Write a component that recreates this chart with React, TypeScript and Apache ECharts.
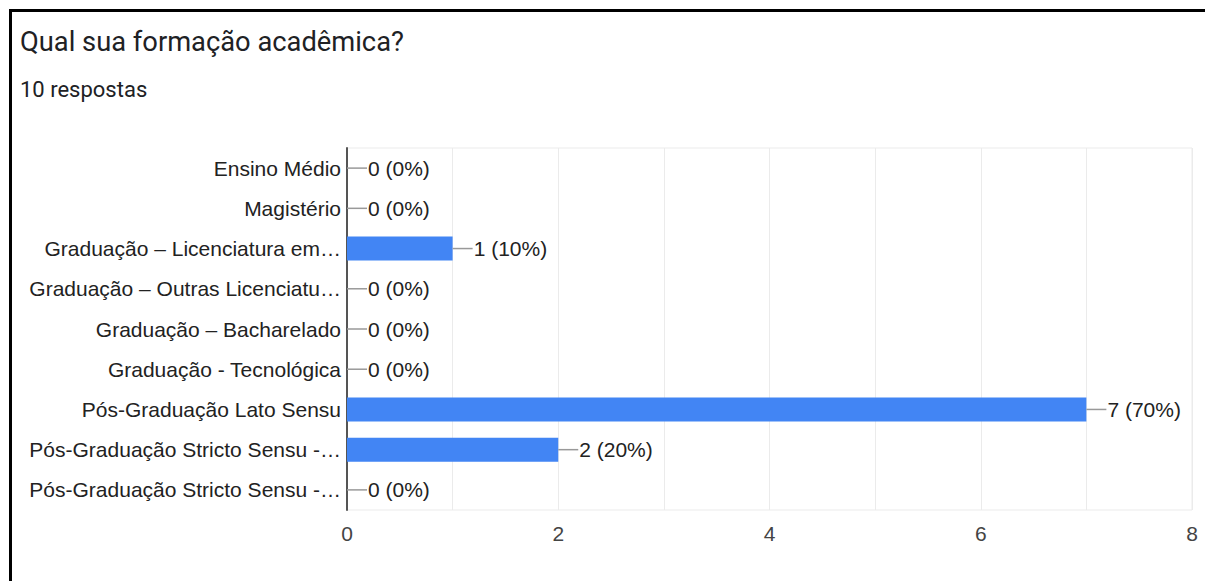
import React, { useEffect, useRef } from "react";
import * as echarts from "echarts";

const title = "Qual sua formação acadêmica?";
const subtitle = "10 respostas";
const categories = [
  "Ensino Médio",
  "Magistério",
  "Graduação – Licenciatura em…",
  "Graduação – Outras Licenciatu…",
  "Graduação – Bacharelado",
  "Graduação - Tecnológica",
  "Pós-Graduação Lato Sensu",
  "Pós-Graduação Stricto Sensu -…",
  "Pós-Graduação Stricto Sensu -…",
];
const values = [0, 0, 1, 0, 0, 0, 7, 2, 0];
const percents = [0, 0, 10, 0, 0, 0, 70, 20, 0];
const xTicks = [0, 2, 4, 6, 8];

const FONT = "'Liberation Sans', Arial, sans-serif";

export default function App() {
  const ref = useRef<HTMLDivElement>(null);
  useEffect(() => {
    if (!ref.current) return;
    const chart = echarts.init(ref.current, undefined, { renderer: "svg" });
    chart.setOption({
      animation: false,
      backgroundColor: "#ffffff",
      graphic: [
        { type: "line", shape: { x1: 10.5, y1: 9, x2: 10.5, y2: 581 }, style: { stroke: "#000", lineWidth: 3 } },
        { type: "line", shape: { x1: 9, y1: 10.5, x2: 1205, y2: 10.5 }, style: { stroke: "#000", lineWidth: 3 } },
        {
          type: "text",
          left: 20,
          top: 28,
          style: { text: title, font: "27.3px Roboto, 'Noto Sans', sans-serif", fill: "#202124" },
        },
        {
          type: "text",
          left: 20,
          top: 78,
          style: { text: subtitle, font: "22px Roboto, 'Noto Sans', sans-serif", fill: "#202124" },
        },
      ],
      grid: {
        left: 347,
        right: 13,
        top: 148,
        bottom: 71,
        show: true,
        borderColor: "#ebebeb",
        borderWidth: 1,
      },
      xAxis: {
        type: "value",
        min: 0,
        max: 8,
        interval: 1,
        axisLine: { show: false },
        axisTick: { show: false },
        splitLine: { show: true, lineStyle: { color: "#ebebeb", width: 1 } },
        axisLabel: {
          margin: 13,
          color: "#444",
          fontFamily: FONT,
          fontSize: 21,
          formatter: (v: number) => (xTicks.includes(v) ? String(v) : ""),
        },
      },
      yAxis: {
        type: "category",
        inverse: true,
        data: categories,
        axisLine: { show: true, lineStyle: { color: "#555", width: 2 } },
        axisTick: { show: false },
        axisLabel: {
          margin: 6,
          color: "#222",
          fontFamily: FONT,
          fontSize: 21,
        },
      },
      series: [
        {
          type: "bar",
          data: values,
          barWidth: 24,
          itemStyle: { color: "#4285f4" },
          label: {
            show: true,
            position: "right",
            distance: 0,
            formatter: (p: any) => `{ln|}{t|${values[p.dataIndex]} (${percents[p.dataIndex]}%)}`,
            rich: {
              ln: { width: 20, height: 1.5, backgroundColor: "#999" },
              t: {
                color: "#222",
                fontFamily: FONT,
                fontSize: 21,
                padding: [0, 0, 0, 1],
              },
            },
          },
        },
      ],
    });
    return () => chart.dispose();
  }, []);
  return (
    <div
      ref={ref}
      style={{ position: "absolute", left: 0, top: 0, width: 1205, height: 581 }}
    />
  );
}
